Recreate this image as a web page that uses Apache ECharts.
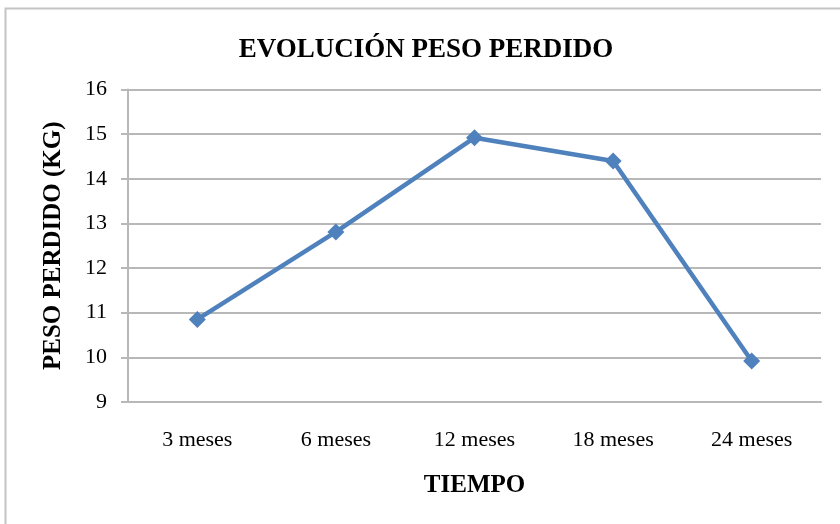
<!DOCTYPE html>
<html>
<head>
<meta charset="utf-8">
<script src="https://cdn.jsdelivr.net/npm/echarts@6/dist/echarts.min.js"></script>
<style>
  html, body { margin: 0; padding: 0; background: #fff; }
  #chart { width: 840px; height: 524px; }
</style>
</head>
<body>
<div id="chart"></div>
<script>
// datos
const categories = ['3 meses', '6 meses', '12 meses', '18 meses', '24 meses']
const pesoPerdido = [10.85, 12.81, 14.92, 14.4, 9.92]

const serif = '"Liberation Serif", "DejaVu Serif", serif'

const chart = echarts.init(document.getElementById('chart'))

chart.setOption({
    animation: false,
    graphic: [{
        type: 'rect',
        shape: { x: 5.5, y: 8.5, width: 900, height: 600 },
        style: { fill: 'none', stroke: '#c4c4c4', lineWidth: 2 },
        silent: true
    }],
    title: {
        text: 'EVOLUCIÓN PESO PERDIDO',
        left: 421,
        textAlign: 'center',
        top: 32,
        textStyle: { fontFamily: serif, fontWeight: 'bold', fontSize: 27, color: '#000' }
    },
    grid: { left: 128, right: 19, top: 89.5, bottom: 122, containLabel: false },
    xAxis: {
        type: 'category',
        data: categories,
        boundaryGap: true,
        name: 'TIEMPO',
        nameLocation: 'middle',
        nameGap: 71,
        nameTextStyle: { fontFamily: serif, fontWeight: 'bold', fontSize: 25, color: '#000' },
        axisLine: { lineStyle: { color: '#b8b8b8', width: 2 } },
        axisTick: { show: false },
        axisLabel: { fontFamily: serif, fontSize: 22, color: '#000', margin: 27 }
    },
    yAxis: {
        type: 'value',
        min: 9,
        max: 16,
        interval: 1,
        name: 'PESO PERDIDO (KG)',
        nameLocation: 'middle',
        nameGap: 62,
        nameRotate: 90,
        nameTextStyle: { fontFamily: serif, fontWeight: 'bold', fontSize: 25, color: '#000' },
        axisLine: { show: true, lineStyle: { color: '#b8b8b8', width: 2 } },
        axisTick: { show: true, length: 7, lineStyle: { color: '#b8b8b8', width: 2 } },
        axisLabel: { fontFamily: serif, fontSize: 22, color: '#000', margin: 21 },
        splitLine: { lineStyle: { color: '#b8b8b8', width: 2 } }
    },
    series: [{
        type: 'line',
        data: pesoPerdido,
        symbol: 'diamond',
        symbolSize: 17,
        lineStyle: { color: '#4F81BD', width: 4.5 },
        itemStyle: { color: '#4F81BD' }
    }]
})
</script>
</body>
</html>
